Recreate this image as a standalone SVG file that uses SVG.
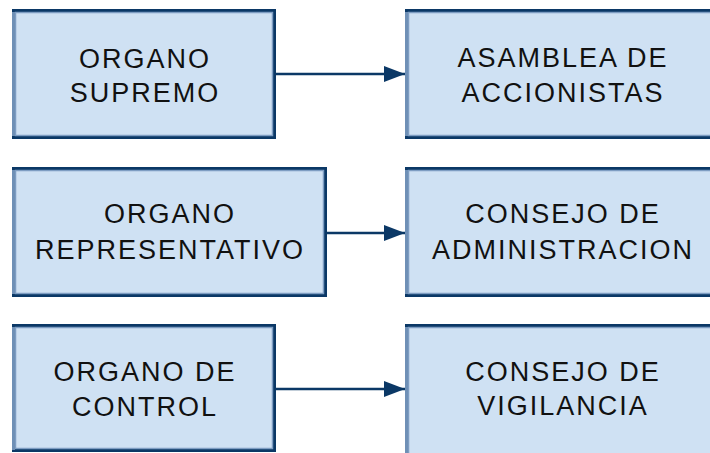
<svg xmlns="http://www.w3.org/2000/svg" width="710" height="453" viewBox="0 0 710 453">
<style>
.box{fill:#cfe1f3;stroke:#0b3866;stroke-width:3}
.hl{fill:none;stroke:#7e9dc2;stroke-width:1.5}
.edge{stroke:#6f90b6;stroke-width:3}
.t{font-family:"Liberation Sans",Arial,sans-serif;font-size:27px;letter-spacing:2px;fill:#111;text-anchor:middle}
.c{stroke:#0b3866;stroke-width:2.5;fill:none}
</style>
<defs>
<marker id="ah" markerWidth="22" markerHeight="16" refX="21" refY="8" markerUnits="userSpaceOnUse" orient="auto">
<path d="M0,0 L21,8 L0,16 Z" fill="#0b3866"/>
</marker>
</defs>
<rect width="710" height="453" fill="#fff"/>
<g id="connectors">
<line class="c" x1="276" y1="74" x2="405" y2="74" marker-end="url(#ah)"/>
<line class="c" x1="327" y1="233" x2="405" y2="233" marker-end="url(#ah)"/>
<line class="c" x1="276" y1="389" x2="405" y2="389" marker-end="url(#ah)"/>
</g>
<g id="n1">
<rect class="box" x="13.5" y="10.5" width="261" height="127"/>
<rect class="hl" x="15.5" y="12.5" width="257" height="123"/>
<line class="edge" x1="13.5" y1="12" x2="13.5" y2="136"/>
<text class="t" x="145" y="68">ORGANO</text>
<text class="t" x="145" y="102">SUPREMO</text>
</g>
<g id="n2">
<rect class="box" x="406.5" y="10.5" width="320" height="127"/>
<rect class="hl" x="408.5" y="12.5" width="316" height="123"/>
<line class="edge" x1="406.5" y1="12" x2="406.5" y2="136"/>
<text class="t" x="563" y="67">ASAMBLEA DE</text>
<text class="t" x="563" y="102">ACCIONISTAS</text>
</g>
<g id="n3">
<rect class="box" x="13.5" y="168.5" width="312" height="127"/>
<rect class="hl" x="15.5" y="170.5" width="308" height="123"/>
<line class="edge" x1="13.5" y1="170" x2="13.5" y2="294"/>
<text class="t" x="170" y="223">ORGANO</text>
<text class="t" x="170" y="259">REPRESENTATIVO</text>
</g>
<g id="n4">
<rect class="box" x="406.5" y="168.5" width="320" height="127"/>
<rect class="hl" x="408.5" y="170.5" width="316" height="123"/>
<line class="edge" x1="406.5" y1="170" x2="406.5" y2="294"/>
<text class="t" x="563" y="223">CONSEJO DE</text>
<text class="t" x="563" y="259">ADMINISTRACION</text>
</g>
<g id="n5">
<rect class="box" x="13.5" y="325.5" width="261" height="125"/>
<rect class="hl" x="15.5" y="327.5" width="257" height="121"/>
<line class="edge" x1="13.5" y1="327" x2="13.5" y2="450"/>
<text class="t" x="145" y="381">ORGANO DE</text>
<text class="t" x="145" y="416">CONTROL</text>
</g>
<g id="n6">
<rect class="box" x="406.5" y="325.5" width="320" height="135"/>
<rect class="hl" x="408.5" y="327.5" width="316" height="131"/>
<line class="edge" x1="406.5" y1="327" x2="406.5" y2="460"/>
<text class="t" x="563" y="381">CONSEJO DE</text>
<text class="t" x="563" y="415">VIGILANCIA</text>
</g>
</svg>
